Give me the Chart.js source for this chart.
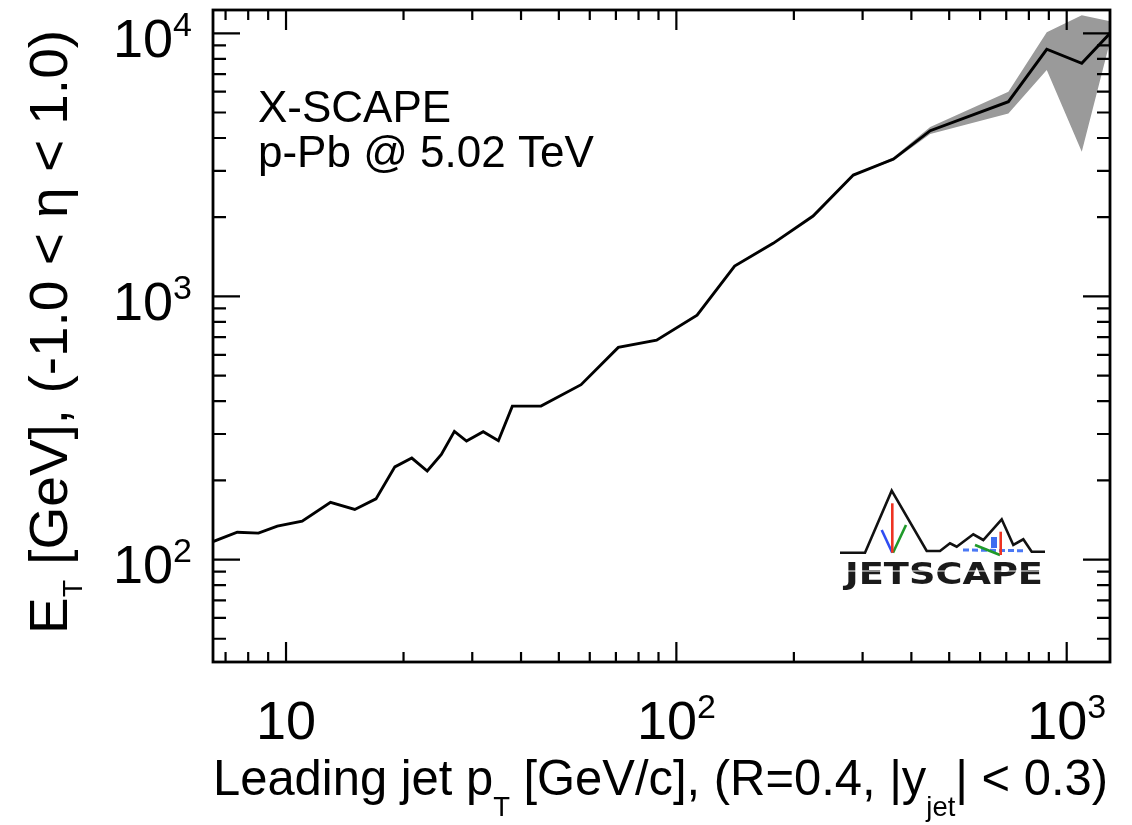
<!DOCTYPE html>
<html>
<head>
<meta charset="utf-8">
<title>X-SCAPE p-Pb transverse energy</title>
<script src="https://cdn.jsdelivr.net/npm/chart.js@4.4.1/dist/chart.umd.min.js"></script>
<style>
  html, body { margin: 0; padding: 0; background: #fff; }
  #wrap { width: 1132px; height: 825px; }
</style>
</head>
<body>
<div id="wrap"><canvas id="etChart" width="1132" height="825"></canvas></div>
<script>
// leading jet pT bins [GeV/c] and summed E_T [GeV]
const jetPt = [6.5, 7.5, 8.5, 9.5, 11, 13, 15, 17, 19, 21, 23, 25, 27, 29, 32, 35, 38, 45, 57, 71, 89, 113, 141, 177, 224, 284, 360, 447, 709, 889, 1093, 1291];
const totalEt = [117, 127, 126, 134, 140, 165, 155, 170, 225, 243, 217, 251, 307, 282, 306, 283, 383, 383, 462, 640, 682, 849, 1304, 1591, 2020, 2892, 3327, 4263, 5495, 8694, 7690, 10000];

// statistical band, only visible at high pT
const bandPt = [284, 360, 447, 709, 889, 1093, 1291];
const bandHigh = [2892, 3380, 4400, 6000, 10100, 11700, 11100];
const bandLow = [2892, 3280, 4140, 4960, 7250, 3550, 9300];

const xTickValues = [10, 100, 1000];
const xTickLabels = [["10", ""], ["10", "2"], ["10", "3"]];
const yTickValues = [100, 1000, 10000];
const yTickLabels = [["10", "2"], ["10", "3"], ["10", "4"]];

const FONT = '"Liberation Sans", Arial, Helvetica, sans-serif';

function toPoints(xs, ys) {
  return xs.map((x, i) => ({ x: x, y: ys[i] }));
}

// draw a sequence of text runs, some shifted as sub/superscripts
function drawRuns(ctx, runs, x, y, fitWidth) {
  let total = 0;
  runs.forEach(r => {
    ctx.font = r.size + 'px ' + FONT;
    r.w = ctx.measureText(r.t).width;
    total += r.w;
  });
  const sx = fitWidth ? fitWidth / total : 1;
  ctx.save();
  ctx.translate(x, y);
  ctx.scale(sx, 1);
  let cx = 0;
  runs.forEach(r => {
    ctx.font = r.size + 'px ' + FONT;
    ctx.fillText(r.t, cx, r.dy || 0);
    cx += r.w;
  });
  ctx.restore();
  return total * sx;
}

function powerRuns(label) {
  const runs = [{ t: label[0], size: 54 }];
  if (label[1]) runs.push({ t: label[1], size: 34, dy: -21 });
  return runs;
}

function runsWidth(ctx, runs) {
  let w = 0;
  runs.forEach(r => { ctx.font = r.size + 'px ' + FONT; w += ctx.measureText(r.t).width; });
  return w;
}

function logTicks(min, max) {
  const out = [];
  for (let d = 1; d <= 100000; d *= 10) {
    for (let m = 1; m <= 9; m++) {
      const v = m * d;
      if (v >= min && v <= max) out.push({ v: v, major: m === 1 });
    }
  }
  return out;
}

const framePlugin = {
  id: 'frame',
  afterDraw(chart) {
    const ctx = chart.ctx;
    const a = chart.chartArea;
    const xs = chart.scales.x;
    const ys = chart.scales.y;
    ctx.save();
    ctx.strokeStyle = '#000';
    ctx.fillStyle = '#000';

    // inward ticks on all four sides
    ctx.lineWidth = 2.2;
    ctx.beginPath();
    logTicks(xs.min, xs.max).forEach(t => {
      const px = xs.getPixelForValue(t.v);
      const len = t.major ? 20 : 10;
      ctx.moveTo(px, a.bottom); ctx.lineTo(px, a.bottom - len);
      ctx.moveTo(px, a.top); ctx.lineTo(px, a.top + len);
    });
    logTicks(ys.min, ys.max).forEach(t => {
      const py = ys.getPixelForValue(t.v);
      const len = t.major ? 27 : 13;
      ctx.moveTo(a.left, py); ctx.lineTo(a.left + len, py);
      ctx.moveTo(a.right, py); ctx.lineTo(a.right - len, py);
    });
    ctx.stroke();

    ctx.lineWidth = 2.8;
    ctx.strokeRect(a.left, a.top, a.right - a.left, a.bottom - a.top);

    // tick labels
    ctx.textBaseline = 'alphabetic';
    ctx.textAlign = 'left';
    xTickValues.forEach((v, i) => {
      const runs = powerRuns(xTickLabels[i]);
      const w = runsWidth(ctx, runs);
      drawRuns(ctx, runs, xs.getPixelForValue(v) - w / 2, a.bottom + 77);
    });
    yTickValues.forEach((v, i) => {
      const runs = powerRuns(yTickLabels[i]);
      const w = runsWidth(ctx, runs);
      drawRuns(ctx, runs, a.left - 21 - w, ys.getPixelForValue(v) + 23.5);
    });

    // axis titles
    drawRuns(ctx, [
      { t: 'Leading jet p', size: 50 },
      { t: 'T', size: 28, dy: 21 },
      { t: ' [GeV/c], (R=0.4, |y', size: 50 },
      { t: 'jet', size: 28, dy: 21 },
      { t: '| < 0.3)', size: 50 }
    ], a.left, a.bottom + 133, 895);

    ctx.save();
    ctx.translate(67, a.bottom - 28);
    ctx.rotate(-Math.PI / 2);
    drawRuns(ctx, [
      { t: 'E', size: 54 },
      { t: 'T', size: 28, dy: 15 },
      { t: ' [GeV], (-1.0 < \u03b7 < 1.0)', size: 54 }
    ], 0, 0, 604);
    ctx.restore();

    // system label
    ctx.font = '44px ' + FONT;
    ctx.fillText('X-SCAPE', a.left + 45, a.top + 112);
    ctx.fillText('p-Pb @ 5.02 TeV', a.left + 45, a.top + 157);

    drawLogo(ctx, a.right - 270, a.bottom - 172);
    ctx.restore();
  }
};

// small JETSCAPE mountain logo
function drawLogo(ctx, ox, oy) {
  ctx.save();
  ctx.translate(ox, oy);
  ctx.lineJoin = 'miter';
  ctx.lineCap = 'butt';

  const ridge = [[0, 62.7], [25, 62.7], [51.7, 0.7], [86.7, 61], [100, 61], [110, 53.3], [116.7, 56.7],
    [133.3, 44.3], [143.3, 50], [161.7, 29.3], [173.3, 55], [183.3, 49.3], [191.7, 61.7], [205, 61.7]];
  ctx.strokeStyle = '#111';
  ctx.lineWidth = 2.6;
  ctx.beginPath();
  ridge.forEach((p, i) => i ? ctx.lineTo(p[0], p[1]) : ctx.moveTo(p[0], p[1]));
  ctx.stroke();

  // blue blobs in the right valley
  ctx.fillStyle = '#3d6cf0';
  ctx.fillRect(151, 47, 6, 11);
  ctx.strokeStyle = '#4a78f5';
  ctx.lineWidth = 3;
  ctx.setLineDash([6, 3]);
  ctx.beginPath();
  ctx.moveTo(123, 60); ctx.lineTo(183, 60.7);
  ctx.stroke();
  ctx.setLineDash([]);

  ctx.lineWidth = 2.6;
  const stroke = (c, x1, y1, x2, y2) => {
    ctx.strokeStyle = c;
    ctx.beginPath(); ctx.moveTo(x1, y1); ctx.lineTo(x2, y2); ctx.stroke();
  };
  stroke('#2f4df2', 41.7, 40, 52.3, 62.7);
  stroke('#1f9a2a', 66, 35, 53, 62.7);
  stroke('#ee3322', 52.3, 13.3, 52.3, 62.7);
  stroke('#1f9a2a', 135, 55, 160, 65);
  stroke('#ee3322', 160.7, 41.7, 160.7, 65);

  // blocky wordmark with thin stencil cuts
  ctx.fillStyle = '#1a1a1a';
  ctx.font = 'bold 30px "DejaVu Sans", sans-serif';
  ctx.textBaseline = 'alphabetic';
  const w = ctx.measureText('JETSCAPE').width;
  ctx.save();
  ctx.translate(5, 93.5);
  ctx.scale(198 / w, 1);
  ctx.fillText('JETSCAPE', 0, 0);
  ctx.restore();
  ctx.strokeStyle = '#fff';
  ctx.lineWidth = 1.2;
  ctx.beginPath();
  ctx.moveTo(4, 81); ctx.lineTo(205, 81);
  ctx.stroke();
  ctx.restore();
}

new Chart(document.getElementById('etChart'), {
  type: 'line',
  data: {
    datasets: [
      {
        label: 'E_T',
        data: toPoints(jetPt, totalEt),
        borderColor: '#000',
        borderWidth: 2.9,
        pointRadius: 0,
        tension: 0,
        fill: false,
        order: 0
      },
      {
        label: 'band high',
        data: toPoints(bandPt, bandHigh),
        borderWidth: 0,
        borderColor: 'rgba(0,0,0,0)',
        backgroundColor: '#9a9a9a',
        pointRadius: 0,
        tension: 0,
        fill: 2,
        order: 1
      },
      {
        label: 'band low',
        data: toPoints(bandPt, bandLow),
        borderWidth: 0,
        borderColor: 'rgba(0,0,0,0)',
        pointRadius: 0,
        tension: 0,
        fill: false,
        order: 2
      }
    ]
  },
  options: {
    responsive: false,
    animation: false,
    devicePixelRatio: 1,
    layout: { padding: { left: 213, top: 10, right: 22, bottom: 163 } },
    plugins: {
      legend: { display: false },
      tooltip: { enabled: false }
    },
    scales: {
      x: { type: 'logarithmic', min: 6.5, max: 1291, display: false },
      y: { type: 'logarithmic', min: 40.8, max: 12260, display: false }
    }
  },
  plugins: [framePlugin]
});
</script>
</body>
</html>
